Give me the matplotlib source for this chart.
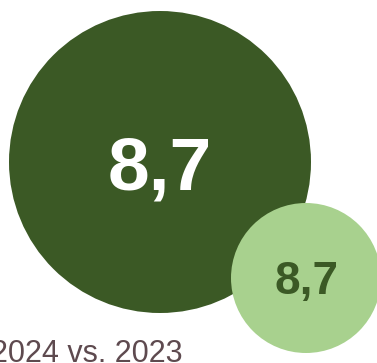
import matplotlib
matplotlib.use("Agg")
import matplotlib.pyplot as plt
from matplotlib.patches import Circle

# data
series = ["2024", "2023"]
values = [8.7, 8.7]
value_labels = ["8,7", "8,7"]
caption = "2024 vs. 2023"

# layout / style
W, H = 377, 363
centers = [(160, 162), (306, 278)]
radii = [151, 75]
fill_colors = ["#3b5925", "#a8d18e"]
text_colors = ["#ffffff", "#3b5925"]
font_sizes = [54, 33]
text_offsets = [8, 4]

fig = plt.figure(figsize=(W / 100, H / 100), dpi=100)
ax = fig.add_axes([0, 0, 1, 1])
ax.set_xlim(0, W)
ax.set_ylim(H, 0)
ax.set_aspect("equal")
ax.axis("off")

for c, r, fc, tc, fs, lab, off in zip(centers, radii, fill_colors, text_colors,
                                      font_sizes, value_labels, text_offsets):
    ax.add_patch(Circle(c, r, facecolor=fc, edgecolor="none"))
    ax.text(c[0], c[1] + off, lab, ha="center", va="center", color=tc,
            fontsize=fs, fontweight="bold", family="Liberation Sans")

ax.text(183, 362.5, caption, ha="right", va="baseline", color="#5e4a4f",
        fontsize=22, family="Liberation Sans")

fig.savefig("out.png", dpi=100)
